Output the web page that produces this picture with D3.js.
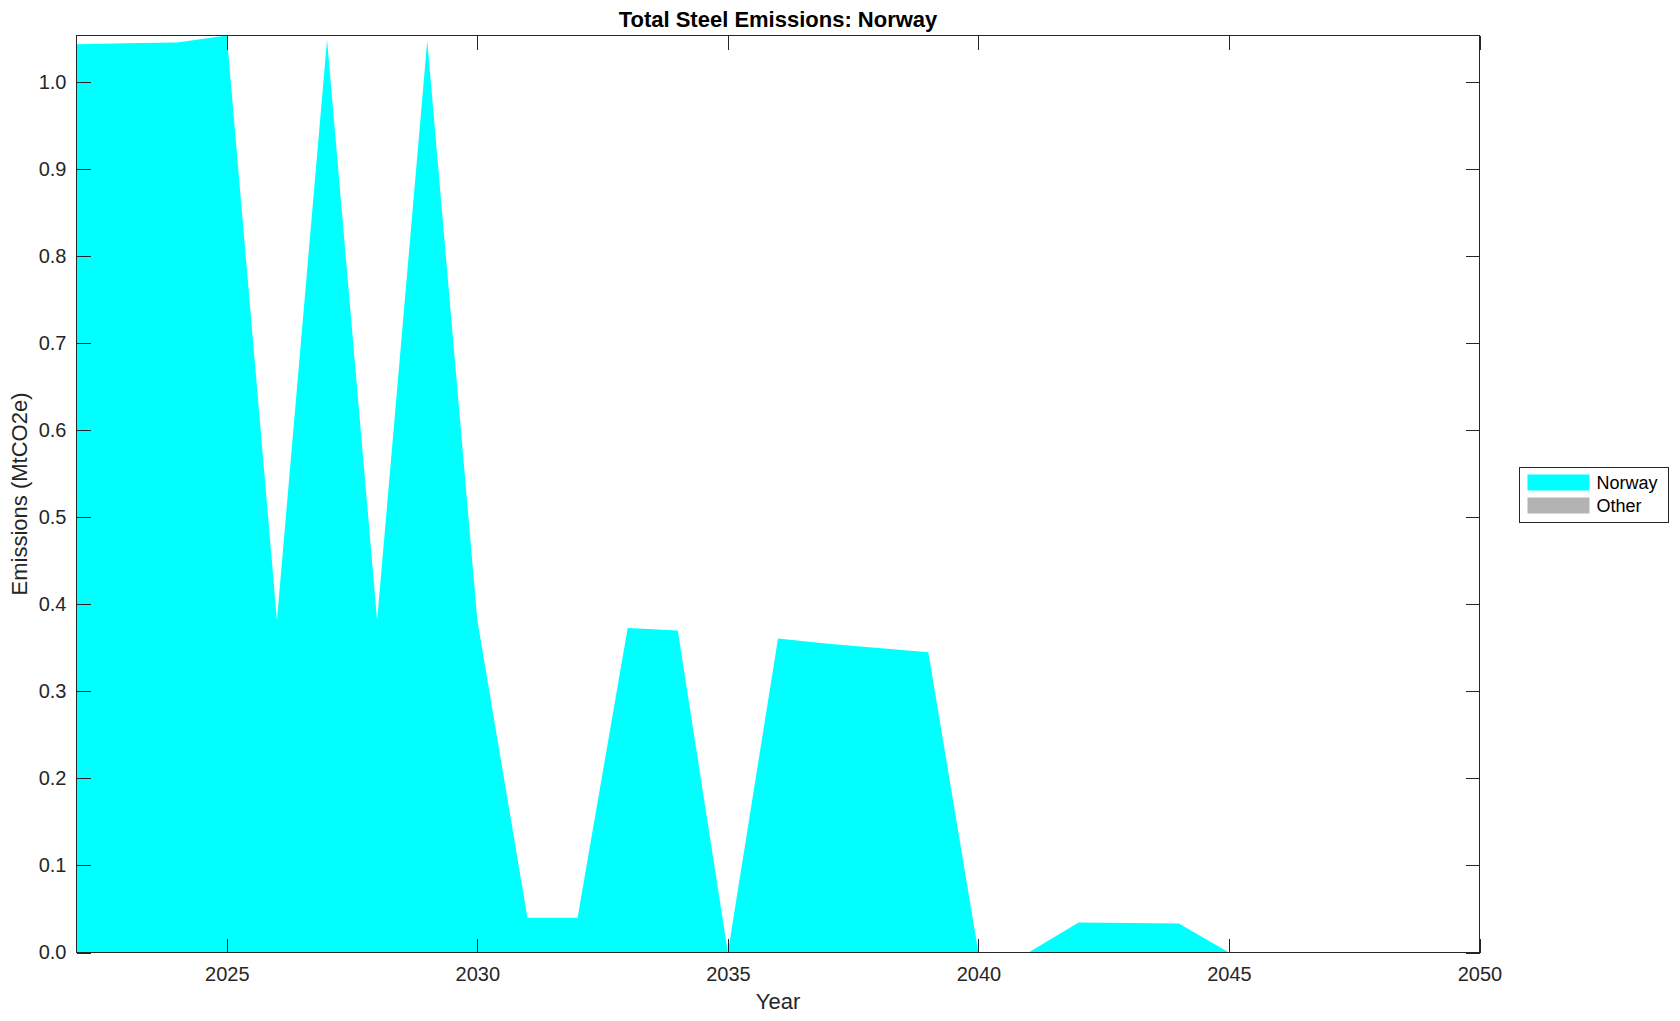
<!DOCTYPE html>
<html lang="en">
<head>
<meta charset="utf-8" />
<title>Total Steel Emissions: Norway</title>
<script src="https://d3js.org/d3.v7.min.js"></script>
<style>
  body { margin: 0; background: #fff; }
  svg text { font-family: "Liberation Sans", Arial, Helvetica, sans-serif; }
  .axis path.domain { display: none; }
  .axis line { stroke: #262626; shape-rendering: crispEdges; }
  .axis text { fill: #262626; font-size: 20px; }
</style>
</head>
<body>
<script>

// data
var years = [2022, 2023, 2024, 2025, 2026, 2027, 2028, 2029, 2030, 2031,
             2032, 2033, 2034, 2035, 2036, 2037, 2038, 2039, 2040, 2041,
             2042, 2043, 2044, 2045, 2046, 2047, 2048, 2049, 2050];
var norway = [1.044, 1.045, 1.046, 1.054, 0.382, 1.049, 0.382, 1.048, 0.382, 0.040,
              0.040, 0.373, 0.370, 0.000, 0.361, 0.355, 0.350, 0.345, 0.000, 0.000,
              0.0345, 0.034, 0.0332, 0.000, 0.000, 0.000, 0.000, 0.000, 0.000];
var other = [0, 0, 0, 0, 0, 0, 0, 0, 0, 0,
             0, 0, 0, 0, 0, 0, 0, 0, 0, 0,
             0, 0, 0, 0, 0, 0, 0, 0, 0];
var seriesNames = ["Norway", "Other"];
var seriesColors = ["#00ffff", "#b3b3b3"];
var xTickValues = [2025, 2030, 2035, 2040, 2045, 2050];

// plot box (window.top is reserved, so use a box object)
var W = 1680, H = 1021;
var box = {left: 76.5, right: 1479.5, top: 35.5, bottom: 952.5};

var rows = years.map(function(yr, i) {
  return { year: yr, Norway: norway[i], Other: other[i] };
});

var stack = d3.stack().keys(seriesNames);
var layers = stack(rows);

var x = d3.scaleLinear().domain(d3.extent(years)).range([box.left, box.right]);
var y = d3.scaleLinear()
    .domain([0, d3.max(rows, function(d) { return d.Norway + d.Other; })])
    .range([box.bottom, box.top]);

var svg = d3.select("body").append("svg")
    .attr("width", W)
    .attr("height", H);

var area = d3.area()
    .x(function(d) { return x(d.data.year); })
    .y0(function(d) { return y(d[0]); })
    .y1(function(d) { return y(d[1]); });

svg.selectAll("path.layer")
    .data(layers)
  .enter().append("path")
    .attr("class", "layer")
    .attr("fill", function(d, i) { return seriesColors[i]; })
    .attr("d", area);

// axes, ticks pointing inside on all four sides
svg.append("g")
    .attr("class", "axis")
    .attr("transform", "translate(0," + box.bottom + ")")
    .call(d3.axisBottom(x).tickValues(xTickValues).tickFormat(d3.format("d"))
      .tickSizeInner(-14).tickSizeOuter(0).tickPadding(14));

svg.append("g")
    .attr("class", "axis")
    .attr("transform", "translate(0," + box.top + ")")
    .call(d3.axisTop(x).tickValues(xTickValues).tickFormat("")
      .tickSizeInner(-14).tickSizeOuter(0));

svg.append("g")
    .attr("class", "axis")
    .attr("transform", "translate(" + box.left + ",0)")
    .call(d3.axisLeft(y).ticks(10).tickFormat(d3.format(".1f"))
      .tickSizeInner(-14).tickSizeOuter(0).tickPadding(10));

svg.append("g")
    .attr("class", "axis")
    .attr("transform", "translate(" + box.right + ",0)")
    .call(d3.axisRight(y).ticks(10).tickFormat("")
      .tickSizeInner(-14).tickSizeOuter(0));

// frame
svg.append("rect")
    .attr("x", box.left).attr("y", box.top)
    .attr("width", box.right - box.left).attr("height", box.bottom - box.top)
    .attr("fill", "none")
    .attr("stroke", "#262626")
    .attr("stroke-width", 1)
    .attr("shape-rendering", "crispEdges");

// title and labels
svg.append("text")
    .attr("x", (box.left + box.right) / 2)
    .attr("y", 27)
    .attr("text-anchor", "middle")
    .style("font-size", "22px")
    .style("font-weight", "bold")
    .attr("fill", "#000")
    .text("Total Steel Emissions: Norway");

svg.append("text")
    .attr("x", (box.left + box.right) / 2)
    .attr("y", 1009)
    .attr("text-anchor", "middle")
    .style("font-size", "22px")
    .attr("fill", "#262626")
    .text("Year");

svg.append("text")
    .attr("transform", "translate(27," + ((box.top + box.bottom) / 2) + ") rotate(-90)")
    .attr("text-anchor", "middle")
    .style("font-size", "22px")
    .attr("fill", "#262626")
    .text("Emissions (MtCO2e)");

// legend
var legend = svg.append("g").attr("transform", "translate(1519.5,467.5)");
legend.append("rect")
    .attr("width", 149).attr("height", 55)
    .attr("fill", "#fff")
    .attr("stroke", "#262626")
    .attr("shape-rendering", "crispEdges");

var item = legend.selectAll("g.item")
    .data(seriesNames)
  .enter().append("g")
    .attr("class", "item")
    .attr("transform", function(d, i) { return "translate(8," + (7 + i * 23) + ")"; });

item.append("rect")
    .attr("width", 62).attr("height", 16)
    .attr("fill", function(d, i) { return seriesColors[i]; });

item.append("text")
    .attr("x", 69).attr("y", 14)
    .style("font-size", "18px")
    .attr("fill", "#000")
    .text(function(d) { return d; });

</script>
</body>
</html>
